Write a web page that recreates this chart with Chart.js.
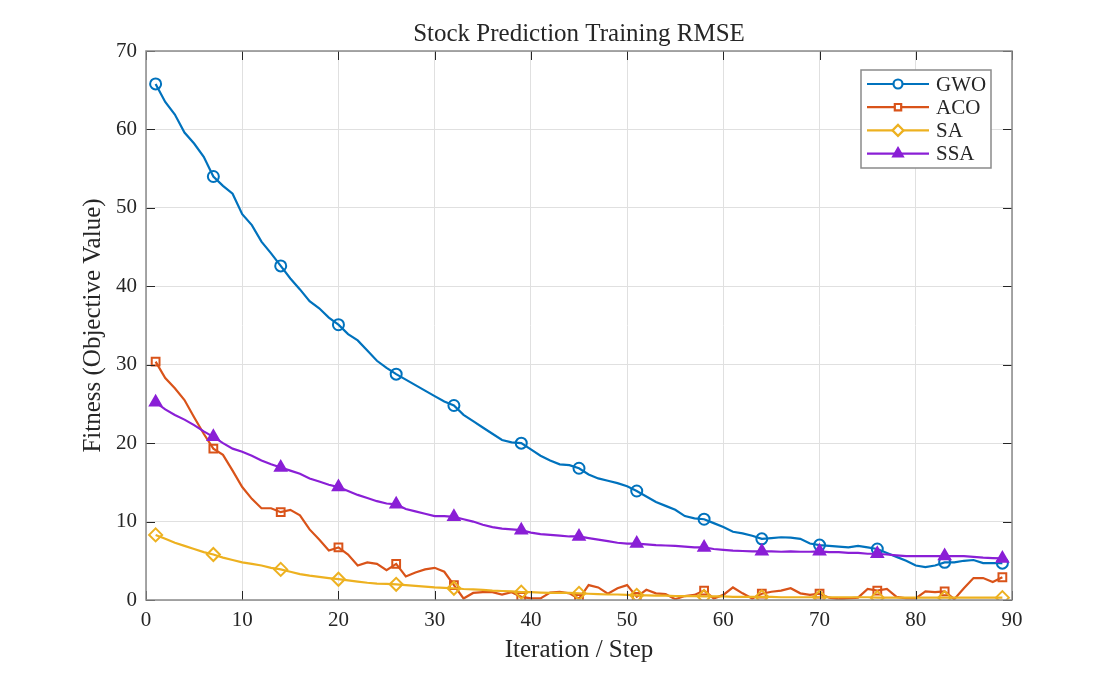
<!DOCTYPE html>
<html lang="en">
<head>
    <meta charset="UTF-8">
    <title>Stock Prediction Training RMSE</title>
    <script src="https://cdn.jsdelivr.net/npm/chart.js"></script>
    <style>
        html, body { margin: 0; padding: 0; background: #fff; }
    </style>
</head>
<body>
    <canvas id="chart" width="1119" height="674"></canvas>

    <script>
        // iteration index (x axis)
        var iterations = [
            1, 2, 3, 4, 5, 6, 7, 8, 9, 10, 11, 12, 13, 14, 15, 16, 17, 18, 19, 20,
            21, 22, 23, 24, 25, 26, 27, 28, 29, 30, 31, 32, 33, 34, 35, 36, 37, 38, 39, 40,
            41, 42, 43, 44, 45, 46, 47, 48, 49, 50, 51, 52, 53, 54, 55, 56, 57, 58, 59, 60,
            61, 62, 63, 64, 65, 66, 67, 68, 69, 70, 71, 72, 73, 74, 75, 76, 77, 78, 79, 80,
            81, 82, 83, 84, 85, 86, 87, 88, 89
        ];

        var gwo = [
            65.8, 63.5, 61.9, 59.6, 58.2, 56.5, 54.0, 52.8, 51.8, 49.2,
            47.8, 45.7, 44.2, 42.6, 41.0, 39.6, 38.1, 37.2, 36.0, 35.1,
            33.9, 33.1, 31.8, 30.5, 29.6, 28.8, 28.1, 27.4, 26.7, 26.0,
            25.3, 24.8, 23.6, 22.8, 22.0, 21.2, 20.4, 20.1, 20.0, 19.2,
            18.4, 17.8, 17.3, 17.2, 16.8, 16.0, 15.5, 15.2, 14.9, 14.5,
            13.9, 13.2, 12.5, 12.0, 11.5, 10.7, 10.4, 10.3, 9.8, 9.3,
            8.7, 8.5, 8.2, 7.8, 7.9, 8.0, 7.95, 7.8, 7.2, 7.0,
            6.9, 6.8, 6.7, 6.9, 6.7, 6.5, 6.0, 5.5, 5.0, 4.4,
            4.2, 4.4, 4.8, 4.8, 5.0, 5.1, 4.7, 4.7, 4.7
        ];

        var aco = [
            30.4, 28.3, 27.0, 25.5, 23.3, 21.2, 19.3, 18.5, 16.5, 14.4,
            12.9, 11.7, 11.7, 11.2, 11.5, 10.8, 9.0, 7.7, 6.3, 6.7,
            5.8, 4.4, 4.8, 4.6, 3.8, 4.6, 3.0, 3.5, 3.9, 4.1,
            3.6, 1.9, 0.2, 0.9, 1.0, 1.0, 0.7, 1.0, 0.4, 0.2,
            0.2, 0.95, 1.05, 0.85, 0.15, 1.9, 1.6, 0.8, 1.5, 1.9,
            0.4, 1.3, 0.85, 0.75, 0.1, 0.5, 0.65, 1.2, 0.2, 0.65,
            1.6, 0.85, 0.2, 0.8, 1.05, 1.2, 1.5, 0.85, 0.65, 0.8,
            0.3, 0.1, 0.2, 0.3, 1.4, 1.2, 1.4, 0.4, 0.2, 0.2,
            1.1, 1.0, 1.1, 0.1, 1.5, 2.8, 2.8, 2.3, 2.9
        ];

        var sa = [
            8.3, 7.8, 7.3, 6.9, 6.5, 6.1, 5.8, 5.4, 5.1, 4.8,
            4.6, 4.4, 4.1, 3.9, 3.6, 3.3, 3.1, 2.95, 2.8, 2.65,
            2.5, 2.35, 2.2, 2.1, 2.05, 2.0, 1.9, 1.8, 1.7, 1.6,
            1.55, 1.5, 1.4, 1.35, 1.3, 1.2, 1.15, 1.1, 1.0, 1.0,
            0.95, 0.9, 0.9, 0.9, 0.85, 0.8, 0.75, 0.7, 0.7, 0.65,
            0.6, 0.6, 0.55, 0.55, 0.5, 0.5, 0.5, 0.45, 0.45, 0.45,
            0.4, 0.4, 0.4, 0.4, 0.4, 0.35, 0.35, 0.35, 0.35, 0.35,
            0.35, 0.35, 0.35, 0.35, 0.35, 0.3, 0.3, 0.3, 0.3, 0.3,
            0.3, 0.3, 0.3, 0.3, 0.3, 0.3, 0.3, 0.3, 0.3
        ];

        var ssa = [
            25.2, 24.3, 23.6, 23.0, 22.3, 21.5, 20.8, 20.0, 19.3, 18.9,
            18.4, 17.8, 17.3, 16.9, 16.5, 16.1, 15.5, 15.1, 14.7, 14.4,
            13.9, 13.4, 13.0, 12.6, 12.3, 12.2, 11.6, 11.3, 11.0, 10.7,
            10.7, 10.6, 10.3, 10.0, 9.6, 9.3, 9.1, 9.0, 8.9, 8.6,
            8.4, 8.3, 8.2, 8.1, 8.1, 7.9, 7.7, 7.5, 7.3, 7.2,
            7.2, 7.1, 7.0, 6.95, 6.9, 6.8, 6.7, 6.7, 6.5, 6.4,
            6.3, 6.25, 6.2, 6.2, 6.2, 6.15, 6.2, 6.15, 6.15, 6.2,
            6.1, 6.1, 6.0, 6.0, 5.9, 5.9, 5.8, 5.7, 5.6, 5.6,
            5.6, 5.6, 5.6, 5.6, 5.6, 5.5, 5.4, 5.35, 5.3
        ];

        // iterations that carry a marker
        var markerAt = [1, 7, 14, 20, 26, 32, 39, 45, 51, 58, 64, 70, 76, 83, 89];

        var xTicks = [0, 10, 20, 30, 40, 50, 60, 70, 80, 90];
        var yTicks = [0, 10, 20, 30, 40, 50, 60, 70];

        var chartTitle = 'Stock Prediction Training RMSE';

        var serif = "'Liberation Serif', 'Times New Roman', serif";
        var textColor = '#262626';

        function toPoints(values) {
            return values.map(function (v, i) { return { x: iterations[i], y: v }; });
        }

        function markerRadius(r) {
            return function (ctx) {
                var p = ctx.raw;
                return p && markerAt.indexOf(p.x) >= 0 ? r : 0;
            };
        }

        function series(label, values, color, style, radius, fill, order) {
            return {
                label: label,
                data: toPoints(values),
                borderColor: color,
                backgroundColor: color,
                borderWidth: 2.2,
                tension: 0,
                pointStyle: style,
                pointRadius: markerRadius(radius),
                pointHoverRadius: markerRadius(radius),
                pointBorderColor: color,
                pointBackgroundColor: fill ? color : 'rgba(255,255,255,0)',
                pointBorderWidth: 2,
                markerSize: radius,
                markerFill: fill,
                order: order
            };
        }

        // title centred over the plot box, box outline, inward ticks on all sides
        var axesBox = {
            id: 'axesBox',
            afterDatasetsDraw: function (chart) {
                var c = chart.ctx, a = chart.chartArea;
                var xs = chart.scales.x, ys = chart.scales.y;
                c.save();
                c.strokeStyle = '#262626';
                c.lineWidth = 1;
                c.beginPath();
                xTicks.forEach(function (t) {
                    var px = Math.round(xs.getPixelForValue(t)) + 0.5;
                    c.moveTo(px, a.bottom); c.lineTo(px, a.bottom - 9);
                    c.moveTo(px, a.top); c.lineTo(px, a.top + 9);
                });
                yTicks.forEach(function (t) {
                    var py = Math.round(ys.getPixelForValue(t)) + 0.5;
                    c.moveTo(a.left, py); c.lineTo(a.left + 9, py);
                    c.moveTo(a.right, py); c.lineTo(a.right - 9, py);
                });
                c.stroke();
                c.strokeStyle = '#8a8a8a';
                c.lineWidth = 1.5;
                c.strokeRect(a.left, a.top, a.right - a.left, a.bottom - a.top);

                c.fillStyle = textColor;
                c.font = '25px ' + serif;
                c.textAlign = 'center';
                c.textBaseline = 'middle';
                c.fillText(chartTitle, (a.left + a.right) / 2, 34);
                c.restore();
            }
        };

        // MATLAB-style legend: line through the marker, text on the right
        var lineLegend = {
            id: 'lineLegend',
            afterDraw: function (chart) {
                var c = chart.ctx;
                var bx = 861, by = 70, bw = 130, bh = 98;
                c.save();
                c.fillStyle = '#fff';
                c.fillRect(bx, by, bw, bh);
                c.strokeStyle = '#8a8a8a';
                c.lineWidth = 1.5;
                c.strokeRect(bx, by, bw, bh);
                chart.data.datasets.forEach(function (ds, i) {
                    var y = by + 14 + i * 23.2;
                    c.strokeStyle = ds.borderColor;
                    c.lineWidth = 2.2;
                    c.beginPath();
                    c.moveTo(bx + 6, y);
                    c.lineTo(bx + 68, y);
                    c.stroke();
                    c.fillStyle = ds.markerFill ? ds.borderColor : '#fff';
                    Chart.helpers.drawPoint(c, {
                        pointStyle: ds.pointStyle,
                        radius: ds.markerSize - 1,
                        borderWidth: 2,
                        rotation: 0
                    }, bx + 37, y);
                    c.fillStyle = textColor;
                    c.font = '21px ' + serif;
                    c.textAlign = 'left';
                    c.textBaseline = 'middle';
                    c.fillText(ds.label, bx + 75, y + 1);
                });
                c.restore();
            }
        };

        new Chart(document.getElementById('chart').getContext('2d'), {
            type: 'line',
            data: {
                datasets: [
                    series('GWO', gwo, '#0072BD', 'circle', 5.5, false, 3),
                    series('ACO', aco, '#D95319', 'rect', 5.5, false, 2),
                    series('SA', sa, '#EDB120', 'rectRot', 6.5, false, 1),
                    series('SSA', ssa, '#8A1FD6', 'triangle', 6.5, true, 0)
                ]
            },
            options: {
                responsive: false,
                animation: false,
                layout: { padding: { top: 51, right: 107, bottom: 0, left: 0 } },
                plugins: {
                    legend: { display: false },
                    tooltip: { enabled: false },
                    title: { display: false }
                },
                scales: {
                    x: {
                        type: 'linear',
                        min: 0,
                        max: 90,
                        afterFit: function (s) { s.height = 74; },
                        afterBuildTicks: function (s) { s.ticks = xTicks.map(function (v) { return { value: v }; }); },
                        ticks: { color: textColor, font: { family: serif, size: 21 }, padding: 8, maxRotation: 0 },
                        grid: { color: '#e0e0e0', lineWidth: 1, drawTicks: false },
                        border: { display: false },
                        title: {
                            display: true,
                            text: 'Iteration / Step',
                            color: textColor,
                            font: { family: serif, size: 25, lineHeight: 1.2 },
                            padding: { top: 0, bottom: 9 }
                        }
                    },
                    y: {
                        min: 0,
                        max: 70,
                        afterFit: function (s) { s.width = 146; },
                        afterBuildTicks: function (s) { s.ticks = yTicks.map(function (v) { return { value: v }; }); },
                        ticks: { color: textColor, font: { family: serif, size: 21 }, padding: 9 },
                        grid: { color: '#e0e0e0', lineWidth: 1, drawTicks: false },
                        border: { display: false },
                        title: {
                            display: true,
                            text: 'Fitness (Objective Value)',
                            color: textColor,
                            font: { family: serif, size: 25, lineHeight: 1.2 },
                            padding: { top: 78, bottom: 0 }
                        }
                    }
                }
            },
            plugins: [axesBox, lineLegend]
        });
    </script>
</body>
</html>
